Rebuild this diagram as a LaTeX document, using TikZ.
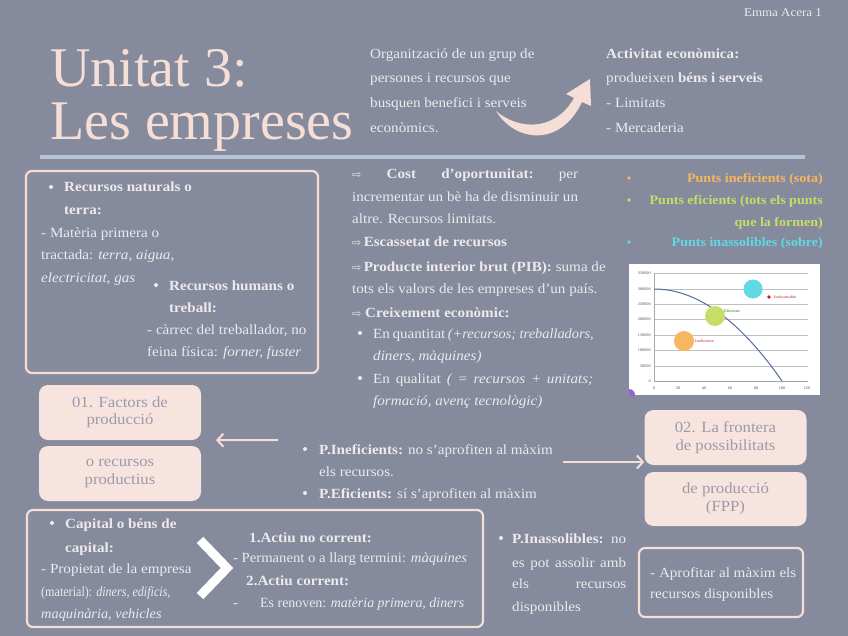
\documentclass[tikz,border=0pt]{standalone}
\usepackage{fontspec}
\usepackage{graphicx}
\setmainfont{Liberation Serif}[FakeStretch=1.08]
\newfontfamily\titlefont{Liberation Serif}
\newfontfamily\symfont{DejaVu Sans}
\usetikzlibrary{arrows.meta}
\definecolor{bg}{RGB}{133,138,157}
\definecolor{fg}{RGB}{238,234,236}
\definecolor{pinkc}{RGB}{248,228,222}
\definecolor{framec}{RGB}{246,222,215}
\definecolor{titlec}{RGB}{245,222,214}
\definecolor{boxtxt}{RGB}{155,154,171}
\definecolor{rulec}{RGB}{180,195,216}
\definecolor{orangec}{RGB}{248,182,96}
\definecolor{greenc}{RGB}{200,220,104}
\definecolor{cyanc}{RGB}{96,218,226}
\definecolor{curvec}{RGB}{80,110,160}
\definecolor{redc}{RGB}{190,30,40}
\newcommand{\fs}{\fontsize{14}{17}\selectfont}
\newcommand{\arr}{{\symfont\fontsize{11}{12}\selectfont ⇨}}
\tikzset{
  txt/.style={anchor=base west, inner sep=0pt, text=fg, font=\fs},
  rtxt/.style={anchor=base east, inner sep=0pt, font=\fontsize{13}{16}\selectfont\bfseries},
  frame/.style={draw=framec, line width=2.2pt, rounded corners=6pt, inner sep=0pt},
  pinkbox/.style={fill=pinkc, rounded corners=9pt, text=boxtxt, align=center,
    font=\fontsize{15.5}{17.5}\selectfont, minimum width=162pt, inner sep=0pt},
  connector/.style={draw=framec, line width=2pt, -{Straight Barb[length=6pt,width=13pt,line width=2pt]}},
  tiny/.style={inner sep=0pt, font=\fontsize{4}{4}\selectfont, text=black!70},
}
\begin{document}
\begin{tikzpicture}[x=1pt,y=-1pt]
\fill[bg] (0,0) rectangle (848,636);
\useasboundingbox (0,0) rectangle (848,636);

% header
\node[anchor=base east, inner sep=0pt, text=fg, font=\fontsize{12}{14}\selectfont] (em) at (822,17) {Emma Acera 1};
\node[anchor=base west, inner sep=0pt, text=titlec, font=\titlefont\fontsize{56}{60}\selectfont] (t1) at (50,87) {Unitat 3:};
\node[anchor=base west, inner sep=0pt, text=titlec, font=\titlefont\fontsize{56}{60}\selectfont] (t2) at (50,140) {Les empreses};

\node[txt] (h1) at (370,59) {Organització de un grup de};
\node[txt] (h2) at (370,83) {persones i recursos que};
\node[txt] (h3) at (370,108) {busquen benefici i serveis};
\node[txt] (h4) at (370,133) {econòmics.};

\node[txt] (a1) at (606,59) {\textbf{Activitat econòmica:}};
\node[txt] (a2) at (606,83) {produeixen \textbf{béns i serveis}};
\node[txt] (a3) at (606,108) {- Limitats};
\node[txt] (a4) at (606,133) {- Mercaderia};

% curved arrow
\fill[titlec] (496,111) .. controls (515,142) and (560,148) .. (582,102)
  -- (591,106) -- (590,79) -- (566,94) -- (574,98)
  .. controls (555,132) and (518,130) .. (496,111) -- cycle;

% rule
\draw[rulec, line width=4pt] (40,157) -- (805,157);

% box 1
\node[frame, minimum width=292pt, minimum height=202pt] (b1) at (172,272) {};
\fill[fg] (51,187) circle (2);
\node[txt] (n1) at (64,192) {\textbf{Recursos naturals o}};
\node[txt] (n2) at (64,215) {\textbf{terra:}};
\node[txt] (n3) at (41,238) {- Matèria primera o};
\node[txt] (n4) at (41,260) {tractada: \textit{terra, aigua,}};
\node[txt] (n5) at (41,282) {\textit{electricitat, gas}};
\fill[fg] (156,285) circle (2);
\node[txt] (n6) at (169,290) {\textbf{Recursos humans o}};
\node[txt] (n7) at (169,312) {\textbf{treball:}};
\node[txt] (n8) at (147,334) {- càrrec del treballador, no};
\node[txt] (n9) at (147,356) {feina física: \textit{forner, fuster}};

% middle block
\node[txt] (m1) at (352,179) {\hbox to 226pt{\arr\hfill\textbf{Cost}\hfill\textbf{d'oportunitat:}\hfill per}};
\node[txt] (m2) at (352,202) {incrementar un bè ha de disminuir un};
\node[txt] (m3) at (352,224) {altre. Recursos limitats.};
\node[txt] (m4) at (352,247) {\arr\,\textbf{Escassetat de recursos}};
\node[txt] (m5) at (352,272) {\arr\,\textbf{Producte interior brut (PIB):} suma de};
\node[txt] (m6) at (352,293) {tots els valors de les empreses d'un país.};
\node[txt] (m7) at (352,317) {\arr\ \textbf{Creixement econòmic:}};
\fill[fg] (360,333) circle (2);
\node[txt] (m8) at (373,338) {\hbox to 220pt{En quantitat \scalebox{0.95}[1]{\textit{(+recursos; treballadors,}}}};
\node[txt] (m9) at (373,360) {\textit{diners, màquines)}};
\fill[fg] (360,378) circle (2);
\node[txt] (m10) at (373,383) {\hbox to 220pt{En qualitat \textit{( = recursos + unitats;}}};
\node[txt] (m11) at (373,405) {\textit{formació, avenç tecnològic)}};

% right list
\fill[orangec] (629,178) circle (1.8);
\fill[greenc] (629,200) circle (1.8);
\fill[cyanc] (629,242) circle (1.8);
\node[rtxt, text=orangec] (r1) at (823,183) {Punts ineficients (sota)};
\node[rtxt, text=greenc] (r2) at (823,205) {Punts eficients (tots els punts};
\node[rtxt, text=greenc] (r3) at (823,227) {que la formen)};
\node[rtxt, text=cyanc] (r4) at (823,247) {Punts inassolibles (sobre)};

% chart
\begin{scope}
\clip (629,264) rectangle (820,395);
\fill[white] (629,264) rectangle (820,395);
\foreach \yy in {273,289,304,319,335,350,366}
  \draw[black!25, line width=0.6pt] (654,\yy) -- (808,\yy);
\draw[black!35, line width=0.6pt] (654,273) -- (654,381) -- (808,381);
\foreach \yy/\lab in {273/350000,289/300000,304/250000,319/200000,335/150000,350/100000,366/50000,381/0}
  \node[tiny, anchor=east] (yl\lab) at (651,\yy) {\lab};
\foreach \xx/\lab in {654/0,678/20,704/40,730/60,756/80,782/100,807/120}
  \node[tiny] (xl\lab) at (\xx,388) {\lab};
\draw[curvec, line width=1pt] plot[domain=0:100, samples=50] ({654+1.28*\x},{381-92*(1-(\x/100)*(\x/100))});
\fill[orangec] (684,341) circle (10);
\fill[greenc] (715,316) circle (10);
\fill[cyanc] (753,289) circle (9.5);
\fill[redc] (769,297) circle (1.8);
\node[tiny, anchor=west, text=redc] (lin) at (695,341) {Ineficiente};
\node[tiny, anchor=west, text=green!50!black] (lef) at (724,311) {Eficiente};
\node[tiny, anchor=west, text=redc] (lia) at (774,297) {Inalcanzable};
\fill[blue!45!violet!60] (629,395) circle (6);
\end{scope}

% factor boxes
\node[pinkbox, minimum height=55pt] (f1) at (120,412.5) {01. Factors de\\producció};
\node[pinkbox, minimum height=55pt] (f2) at (120,473.5) {o recursos\\productius};

% P list
\fill[fg] (305,449) circle (2);
\node[txt] (p1) at (319,454) {\textbf{P.Ineficients:} no s'aprofiten al màxim};
\node[txt] (p2) at (319,476) {els recursos.};
\fill[fg] (305,493) circle (2);
\node[txt] (p3) at (319,498) {\textbf{P.Eficients:} sí s'aprofiten al màxim};

% FPP boxes
\node[pinkbox, minimum height=55pt] (g1) at (725.5,437.5) {02. La frontera\\de possibilitats};
\node[pinkbox, minimum height=54pt] (g2) at (725.5,499) {de producció\\(FPP)};

% arrows
\coordinate (la) at (278,440);
\coordinate (ra) at (563,462);
\draw[connector] (la) -- (f1.south east -| 216,440);
\draw[connector] (ra) -- (g2.west |- 0,462);

% bottom box
\node[frame, minimum width=456pt, minimum height=117pt] (b2) at (255,568.5) {};
\fill[fg] (52,523) circle (2);
\node[txt] (c1) at (65,528) {\textbf{Capital o béns de}};
\node[txt] (c2) at (65,552) {\textbf{capital:}};
\node[txt] (c3) at (41,573) {- Propietat de la empresa};
\node[txt] (c4) at (41,596) {\scalebox{0.8}[1]{(material): \textit{diners, edificis,}}};
\node[txt] (c5) at (41,618) {\scalebox{0.95}[1]{\textit{maquinària, vehicles}}};
\draw[white, line width=9pt, miter limit=10] (200,540) -- (227,568) -- (200,596);
\node[txt] (d1) at (249,542) {\textbf{1.Actiu no corrent:}};
\node[txt] (d2) at (233,562) {\scalebox{0.97}[1]{- Permanent o a llarg termini: \textit{màquines}}};
\node[txt] (d3) at (246,585) {\textbf{2.Actiu corrent:}};
\node[txt] (d4) at (233,607) {-\hspace{22pt}\scalebox{0.92}[1]{Es renoven: \textit{matèria primera, diners}}};

% P.Inassolibles
\fill[fg] (501,538) circle (2);
\node[txt] (q1) at (512,543) {\hbox to 114pt{\textbf{P.Inassolibles:} no}};
\node[txt] (q2) at (512,567) {\hbox to 114pt{es pot assolir amb}};
\node[txt] (q3) at (512,588) {\hbox to 114pt{els recursos}};
\node[txt] (q4) at (512,611) {disponibles};

% box 3
\node[frame, minimum width=164pt, minimum height=69pt] (b3) at (721,582.5) {};
\node[txt] (s1) at (650,577) {- Aprofitar al màxim els};
\node[txt] (s2) at (650,598) {recursos disponibles};
\end{tikzpicture}
\end{document}
